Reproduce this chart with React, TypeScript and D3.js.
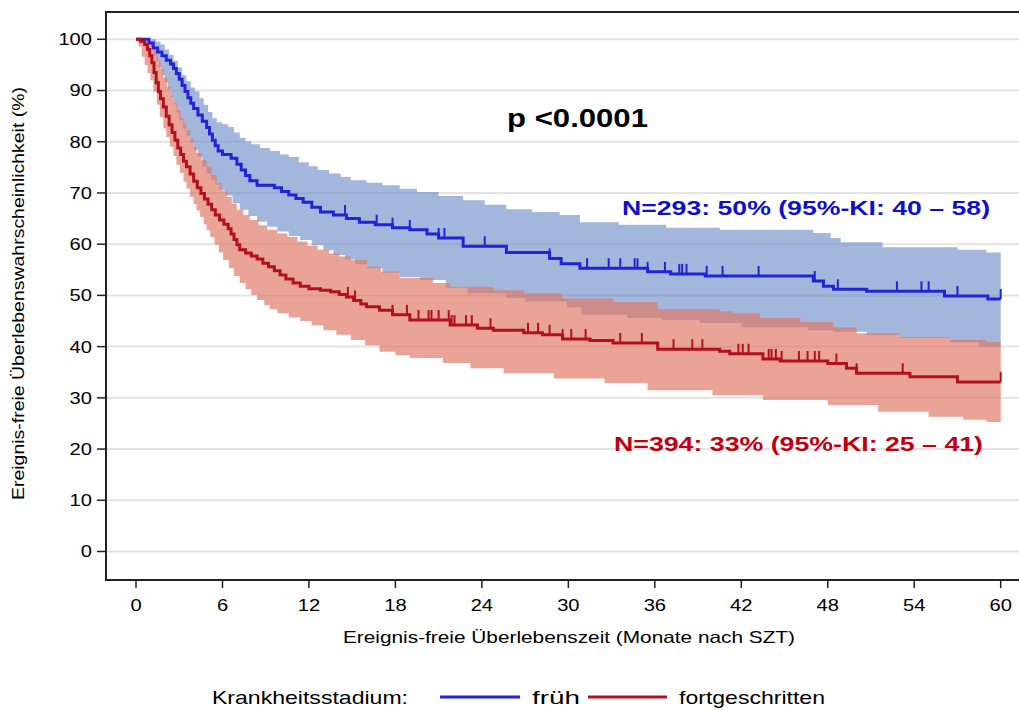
import * as d3 from 'd3'

const width = 1019
const height = 711
const font = 'Liberation Sans, Arial, sans-serif'

// Kaplan-Meier estimate, früh (months, %)
const fruehTime = [0, 0.9, 1.2, 1.5, 1.8, 2.1, 2.4, 2.6, 2.8, 3.0, 3.2, 3.4, 3.6, 3.8, 4.0, 4.3, 4.6, 4.9, 5.1, 5.3, 5.5, 5.7, 6.0, 6.6, 7.0, 7.3, 7.6, 7.9, 8.4, 9.6, 10.1, 10.6, 11.1, 11.6, 12.2, 12.8, 13.7, 14.6, 15.5, 16.6, 17.8, 19.0, 20.2, 21.0, 22.7, 25.7, 28.7, 29.5, 30.8, 35.5, 37.1, 39.5, 47.0, 47.7, 48.4, 50.7, 56.1, 59.1]
const fruehSurv = [100, 99.3, 98.3, 97.5, 96.8, 95.9, 95.2, 94.3, 93.3, 92.2, 91, 89.8, 88.6, 87.5, 86.5, 85.2, 84, 82.8, 81.5, 80.3, 79.2, 78.2, 77.5, 76.8, 75.6, 74.5, 73.4, 72.4, 71.5, 71.0, 70.3, 69.6, 68.9, 68.2, 67.2, 66.3, 65.7, 65.0, 64.3, 63.8, 63.2, 62.8, 62.0, 61.2, 59.6, 58.4, 57.2, 56.2, 55.3, 54.6, 54.2, 53.8, 52.8, 51.8, 51.2, 50.8, 49.9, 49.3]
const fruehCensor = [14.5, 16.7, 17.8, 19.0, 21.0, 21.4, 24.2, 28.7, 31.3, 32.8, 33.6, 34.6, 34.8, 35.5, 36.7, 37.7, 37.9, 38.2, 39.6, 40.7, 43.2, 47.1, 48.7, 52.8, 54.5, 55.0, 57.0, 60.0]
const fruehUpperTime = [0, 1.4, 1.7, 2.0, 2.3, 2.6, 2.9, 3.2, 3.5, 3.8, 4.1, 4.4, 4.7, 5.0, 5.3, 5.6, 6.0, 6.4, 6.8, 7.2, 7.6, 8.0, 8.6, 9.3, 10.0, 10.6, 11.3, 12.0, 12.6, 13.4, 14.2, 14.9, 16.0, 17.1, 18.3, 19.5, 21.0, 22.7, 24.2, 25.7, 27.5, 29.4, 30.8, 33.5, 36.8, 40.5, 47.0, 48.2, 48.9, 51.8, 57.0, 59.0]
const fruehUpper = [100, 99.5, 99, 98, 97, 95.8, 94.5, 93, 91.8, 90.6, 89.8, 88.5, 87.2, 85.8, 84.6, 83.8, 83.4, 82.9, 81.8, 80.8, 80.1, 79.5, 78.8, 78.2, 77.5, 77.0, 76.0, 75.2, 74.5, 73.8, 73.1, 72.5, 72.0, 71.5, 70.8, 70.2, 69.4, 68.6, 67.7, 66.8, 66.3, 65.7, 64.3, 63.8, 63.2, 62.8, 62.2, 61.2, 60.4, 59.4, 58.9, 58.4]
const fruehLowerTime = [0, 1.0, 1.2, 1.4, 1.6, 1.8, 2.0, 2.2, 2.4, 2.6, 2.8, 3.0, 3.25, 3.5, 3.75, 4.0, 4.3, 4.6, 4.9, 5.2, 5.5, 5.8, 6.2, 6.7, 7.2, 7.8, 8.4, 9.1, 9.8, 10.6, 11.4, 12.2, 13.0, 13.7, 14.5, 15.2, 16.0, 17.1, 18.3, 19.7, 21.5, 23.0, 25.7, 27.0, 29.9, 30.9, 34.1, 36.5, 39.1, 42.0, 46.6, 48.4, 50.7, 53.0, 56.5, 58.5]
const fruehLower = [100, 98.5, 97, 95.8, 94.5, 93, 91.6, 90.2, 88.7, 87.3, 85.7, 84.2, 82.6, 81.2, 79.8, 78.4, 77.0, 75.1, 73.8, 72.6, 71.6, 70.6, 69.5, 68.0, 66.7, 65.5, 64.4, 63.4, 62.5, 61.6, 60.8, 59.8, 58.8, 57.9, 57.0, 56.1, 55.3, 54.4, 53.6, 53.0, 51.5, 50.4, 49.5, 48.8, 47.7, 46.2, 45.6, 45.2, 44.6, 43.8, 43.2, 42.9, 42.2, 41.7, 40.8, 40.0]

// Kaplan-Meier estimate, fortgeschritten
const fortTime = [0, 0.3, 0.6, 0.8, 0.95, 1.1, 1.25, 1.4, 1.55, 1.7, 1.9, 2.1, 2.3, 2.5, 2.7, 2.9, 3.1, 3.3, 3.5, 3.75, 4.0, 4.25, 4.5, 4.75, 5.0, 5.25, 5.5, 5.8, 6.1, 6.4, 6.6, 6.8, 7.0, 7.2, 7.6, 8.0, 8.4, 8.8, 9.2, 9.6, 10.0, 10.4, 10.9, 11.4, 12.0, 12.8, 13.5, 14.1, 14.6, 15.1, 15.6, 16.0, 16.9, 17.8, 19.0, 21.8, 23.7, 24.8, 26.9, 28.2, 29.6, 31.5, 33.1, 36.2, 40.5, 41.2, 43.5, 44.7, 48.0, 49.3, 50.0, 53.7, 57.0]
const fortSurv = [100, 99.6, 99, 98, 96.8, 95.4, 93.5, 91.5, 89.8, 88.4, 86.8, 85, 83.3, 81.8, 80.3, 78.8, 77.5, 76.2, 75.1, 73.7, 72.3, 71.0, 69.9, 68.8, 67.8, 66.7, 65.7, 64.7, 63.9, 63.0, 62.0, 60.9, 59.9, 58.9, 58.3, 57.7, 57.1, 56.3, 55.6, 54.8, 54.0, 53.2, 52.4, 51.8, 51.3, 51.0, 50.7, 50.2, 49.7, 49.0, 48.3, 47.8, 47.1, 46.2, 45.2, 44.2, 43.6, 43.2, 42.7, 42.3, 41.5, 41.2, 40.7, 39.5, 39.1, 38.6, 37.6, 37.2, 36.7, 35.8, 34.8, 34.1, 33.1]
const fortCensor = [14.7, 15.2, 17.8, 18.8, 19.6, 20.3, 20.5, 21.0, 21.7, 21.9, 22.1, 22.9, 23.3, 24.6, 27.2, 27.9, 28.7, 29.6, 30.2, 31.2, 33.6, 35.1, 37.3, 38.6, 39.3, 41.8, 42.1, 42.5, 43.9, 44.1, 44.4, 44.8, 46.0, 46.6, 47.1, 47.4, 48.6, 50.0, 53.2, 60.0]
const fortUpperTime = [0, 0.5, 1.0, 1.25, 1.5, 1.7, 1.9, 2.15, 2.4, 2.6, 2.85, 3.1, 3.3, 3.5, 3.75, 4.0, 4.2, 4.55, 4.9, 5.25, 5.6, 5.95, 6.3, 6.65, 7.0, 7.45, 7.9, 8.5, 9.1, 9.8, 10.5, 11.2, 11.9, 12.6, 13.4, 14.1, 14.9, 16.0, 17.0, 18.3, 20.6, 21.8, 24.8, 26.9, 29.6, 33.1, 36.2, 40.5, 41.4, 43.3, 46.1, 48.4, 50.0, 53.0, 56.5, 59.0]
const fortUpper = [100, 99.7, 99.3, 97.8, 96, 94.3, 92.6, 90.7, 89.0, 87.6, 86.2, 84.7, 83.5, 82.3, 80.6, 79.0, 77.8, 76.4, 75.1, 73.5, 71.9, 70.5, 69.2, 67.9, 66.7, 65.7, 64.7, 63.7, 62.8, 62.1, 61.4, 60.5, 59.7, 58.9, 58.2, 57.6, 56.9, 55.6, 54.6, 53.4, 52.4, 51.7, 51.0, 50.4, 49.4, 48.7, 47.3, 46.9, 46.5, 45.6, 44.8, 43.8, 42.6, 41.9, 41.3, 40.9]
const fortLowerTime = [0, 0.2, 0.4, 0.6, 0.8, 1.0, 1.2, 1.45, 1.65, 1.9, 2.1, 2.35, 2.6, 2.8, 3.05, 3.3, 3.5, 3.75, 4.0, 4.2, 4.45, 4.7, 4.9, 5.15, 5.45, 5.75, 6.05, 6.45, 6.8, 7.2, 7.6, 8.0, 8.4, 8.9, 9.3, 9.8, 10.6, 11.4, 12.2, 13.0, 13.9, 14.9, 15.9, 16.9, 18.0, 19.0, 21.3, 23.2, 25.5, 29.0, 32.5, 35.5, 40.0, 43.5, 48.0, 51.5, 55.0, 57.4, 59.0]
const fortLower = [100, 98.6, 96.6, 95, 93.4, 92, 89.8, 87.2, 84.8, 82.6, 80.9, 79, 77.2, 75.5, 73.9, 72.2, 70.8, 69.2, 67.8, 66.6, 65.3, 63.9, 62.7, 61.4, 59.9, 58.4, 56.9, 55.3, 53.8, 52.4, 51.2, 50.1, 49.1, 48.1, 47.3, 46.5, 45.7, 45.0, 44.1, 43.2, 42.3, 41.3, 40.2, 39.0, 38.3, 37.8, 36.8, 35.8, 34.8, 33.8, 32.9, 31.5, 30.5, 29.6, 28.6, 27.3, 26.3, 25.7, 25.3]

const xTicks = [0, 6, 12, 18, 24, 30, 36, 42, 48, 54, 60]
const yTicks = [0, 10, 20, 30, 40, 50, 60, 70, 80, 90, 100]
const groups = ['früh', 'fortgeschritten']

const blue = '#2323d6'
const red = '#b3101f'

const xScale = d3.scaleLinear().domain([0, 60]).range([136, 1000.7])
const yScale = d3.scaleLinear().domain([0, 100]).range([551.5, 39.3])

const stepAt = (times, vals, t) => vals[Math.max(0, d3.bisectRight(times, t) - 1)]

const stepLine = d3
  .line()
  .x((d) => xScale(d[0]))
  .y((d) => yScale(d[1]))
  .curve(d3.curveStepAfter)

const bandArea = d3
  .area()
  .x((d) => xScale(d.t))
  .y0((d) => yScale(d.lo))
  .y1((d) => yScale(d.hi))
  .curve(d3.curveStepAfter)

function curvePoints(times, vals) {
  const pts = times.map((t, i) => [t, vals[i]])
  pts.push([60, vals[vals.length - 1]])
  return pts
}

function bandPoints(ut, uv, lt, lv) {
  const all = Array.from(new Set([...ut, ...lt, 60])).sort((a, b) => a - b)
  return all.map((t) => ({ t, hi: stepAt(ut, uv, t), lo: stepAt(lt, lv, t) }))
}

function Curve({ times, vals, censor, color }) {
  return (
    <g>
      <path d={stepLine(curvePoints(times, vals))} fill="none" stroke={color} strokeWidth={3} />
      {censor.map((t, i) => {
        const y = yScale(stepAt(times, vals, t))
        return <line key={i} x1={xScale(t)} x2={xScale(t)} y1={y} y2={y - 10} stroke={color} strokeWidth={2} />
      })}
    </g>
  )
}

function Label({ x, y, w, size, weight = 'normal', fill = '#000', transform = undefined, children }) {
  return (
    <text
      x={x}
      y={y}
      transform={transform}
      fontSize={size}
      fontWeight={weight}
      fill={fill}
      textLength={w}
      lengthAdjust="spacingAndGlyphs"
      style={{ fontFamily: font }}
    >
      {children}
    </text>
  )
}

export default function App() {
  return (
    <svg width={width} height={height} style={{ position: 'absolute', left: 0, top: 0, background: '#fff' }}>
      {yTicks.map((v) => (
        <line key={v} x1={107} x2={width} y1={yScale(v)} y2={yScale(v)} stroke="#e3e3e3" strokeWidth={2} />
      ))}

      <path d={bandArea(bandPoints(fruehUpperTime, fruehUpper, fruehLowerTime, fruehLower))} fill="rgb(100,135,195)" fillOpacity={0.6} />
      <path d={bandArea(bandPoints(fortUpperTime, fortUpper, fortLowerTime, fortLower))} fill="rgb(224,119,102)" fillOpacity={0.68} />

      <Curve times={fruehTime} vals={fruehSurv} censor={fruehCensor} color={blue} />
      <Curve times={fortTime} vals={fortSurv} censor={fortCensor} color={red} />

      {/* frame */}
      <line x1={106} x2={106} y1={12} y2={581} stroke="#222" strokeWidth={2} />
      <line x1={105} x2={width} y1={580} y2={580} stroke="#222" strokeWidth={2} />
      <line x1={105} x2={width} y1={12} y2={12} stroke="#222" strokeWidth={2} />

      {yTicks.map((v) => (
        <g key={v} transform={`translate(0,${yScale(v)})`}>
          <line x1={97} x2={106} stroke="#222" strokeWidth={1.5} />
          <text
            transform={`translate(92,0) scale(1.22,1)`}
            dy=".36em"
            fontSize={16.5}
            style={{ textAnchor: 'end', fontFamily: font }}
          >
            {v}
          </text>
        </g>
      ))}
      {xTicks.map((v) => (
        <g key={v} transform={`translate(${xScale(v)},580)`}>
          <line y2={8} stroke="#222" strokeWidth={1.5} />
          <text
            transform={`translate(0,31) scale(1.22,1)`}
            fontSize={16.5}
            style={{ textAnchor: 'middle', fontFamily: font }}
          >
            {v}
          </text>
        </g>
      ))}

      <Label x={343} y={643} w={452} size={16.5}>
        Ereignis-freie Überlebenszeit (Monate nach SZT)
      </Label>
      <Label x={0} y={0} w={413} size={16.5} transform="translate(24,500) rotate(-90)">
        Ereignis-freie Überlebenswahrscheinlichkeit (%)
      </Label>

      <Label x={507} y={127} w={141} size={26.5} weight="bold">
        p {'<'}0.0001
      </Label>
      <Label x={622} y={215} w={368} size={21} weight="bold" fill="#1010c8">
        N=293: 50% (95%-KI: 40 – 58)
      </Label>
      <Label x={614} y={451} w={369} size={21} weight="bold" fill="#c00010">
        N=394: 33% (95%-KI: 25 – 41)
      </Label>

      {/* legend */}
      <Label x={212} y={704} w={196} size={18.5}>
        Krankheitsstadium:
      </Label>
      <line x1={440} x2={520} y1={697} y2={697} stroke={blue} strokeWidth={3} />
      <Label x={532} y={704} w={48} size={18.5}>
        {groups[0]}
      </Label>
      <line x1={588} x2={667} y1={697} y2={697} stroke={red} strokeWidth={3} />
      <Label x={679} y={704} w={146} size={18.5}>
        {groups[1]}
      </Label>
    </svg>
  )
}
